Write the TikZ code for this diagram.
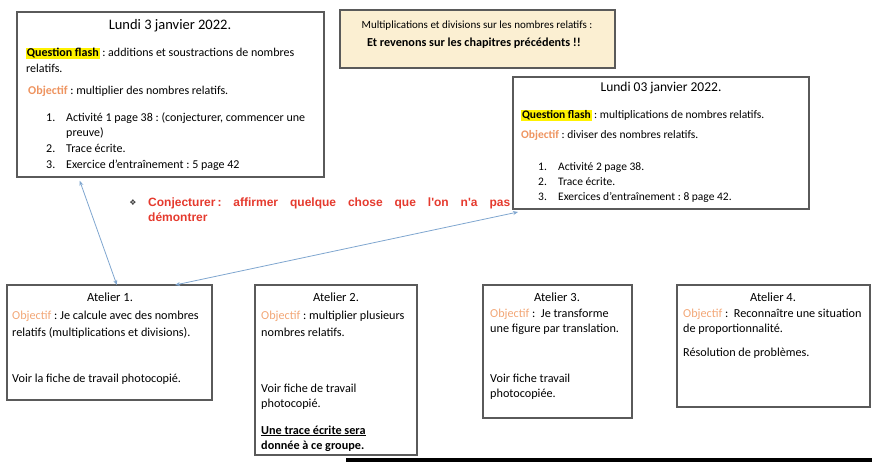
\documentclass[tikz,border=0pt]{standalone}
\usepackage{fontspec}
\setmainfont{Carlito}
\newfontfamily\arialfont{Liberation Sans}
\newfontfamily\symbfont{DejaVu Sans}
\usetikzlibrary{arrows.meta,calc}
\definecolor{boxgray}{HTML}{5A5A5A}
\definecolor{beige}{HTML}{FBEFD2}
\definecolor{objdark}{HTML}{EE9460}
\definecolor{objlight}{HTML}{F2A777}
\definecolor{hlyellow}{HTML}{FFF200}
\definecolor{arrowblue}{HTML}{7FA6CF}
\definecolor{conjred}{HTML}{E53A2E}
\newcommand{\qflash}{{\setlength{\fboxsep}{0.8pt}\colorbox{hlyellow}{\textbf{Question flash}}}}
\newcommand{\objb}{\textcolor{objdark}{\textbf{Objectif}}}
\newcommand{\obja}{\textcolor{objlight}{Objectif}}
\newcommand{\itm}[1]{\makebox[20pt][l]{#1}}
\frenchspacing
\begin{document}
\begin{tikzpicture}[x=1pt,y=-1pt,
  frame/.style={draw=boxgray,line width=1.1pt,inner sep=0,outer sep=0,anchor=north west},
  ln/.style={anchor=base west,inner sep=0,font=\fontsize{12}{14}\selectfont},
  lnb/.style={ln,font=\fontsize{11.5}{13}\selectfont},
  lna/.style={ln,font=\fontsize{12.2}{14}\selectfont},
  ttl/.style={anchor=base,inner sep=0,font=\fontsize{14.5}{17}\selectfont},
  ttla/.style={anchor=base,inner sep=0,font=\fontsize{12.5}{14}\selectfont},
  conn/.style={{Stealth[length=5pt,width=4pt]}-{Stealth[length=5pt,width=4pt]},draw=arrowblue,line width=0.8pt}]
\useasboundingbox (0,0) rectangle (872,462);

% Box 1
\node[frame,minimum width=307pt,minimum height=165pt] (b1) at (17,12) {};
\node[ttl] (b1t) at (170,30) {Lundi 3 janvier 2022.};
\node[ln] (b1a) at (26,57) {\qflash{} : additions et soustractions de nombres};
\node[ln] (b1b) at (26,73) {relatifs.};
\node[ln] (b1c) at (28,95) {\objb{} : multiplier des nombres relatifs.};
\node[ln] (b1d) at (46,122) {\itm{1.}Activité 1 page 38 : (conjecturer, commencer une};
\node[ln] (b1e) at (66,137) {preuve)};
\node[ln] (b1f) at (46,153) {\itm{2.}Trace écrite.};
\node[ln] (b1g) at (46,169) {\itm{3.}Exercice d’entraînement : 5 page 42};

% Top box
\node[frame,fill=beige,minimum width=275pt,minimum height=58pt] (tb) at (340,10) {};
\node[anchor=base,inner sep=0,font=\fontsize{11}{13}\selectfont] (tb1) at (477,29) {Multiplications et divisions sur les nombres relatifs :};
\node[anchor=base,inner sep=0,font=\fontsize{12.2}{14}\selectfont\bfseries] (tb2) at (474,47) {Et revenons sur les chapitres précédents !!};

% Box 2
\node[frame,minimum width=296pt,minimum height=132pt] (b2) at (513,77) {};
\node[ttl,font=\fontsize{13.5}{16}\selectfont] (b2t) at (661,92) {Lundi 03 janvier 2022.};
\node[lnb] (b2a) at (521,119) {\qflash{} : multiplications de nombres relatifs.};
\node[lnb] (b2b) at (521,139) {\objb{} : diviser des nombres relatifs.};
\node[lnb] (b2c) at (538,171) {\itm{1.}Activité 2 page 38.};
\node[lnb] (b2d) at (538,186) {\itm{2.}Trace écrite.};
\node[lnb] (b2e) at (538,201) {\itm{3.}Exercices d’entraînement : 8 page 42.};

% Conjecturer
\node[anchor=base,inner sep=0,font=\symbfont\fontsize{8}{9}\selectfont,text=black!75] (cb) at (133,206) {❖};
\node[anchor=base west,inner sep=0,text=conjred,font=\arialfont\bfseries\fontsize{12}{14}\selectfont] (c1) at (148,207)
  {\makebox[362pt][s]{Conjecturer\,: affirmer quelque chose que l'on n'a pas}};
\node[anchor=base west,inner sep=0,text=conjred,font=\arialfont\bfseries\fontsize{12}{14}\selectfont] (c2) at (148,222) {démontrer};

% Atelier 1
\node[frame,minimum width=205pt,minimum height=115pt] (a1) at (7,285) {};
\node[ttla] (a1t) at (110,301) {Atelier 1.};
\node[lna] (a1a) at (12,319) {\obja{} : Je calcule avec des nombres};
\node[lna] (a1b) at (12,336) {relatifs (multiplications et divisions).};
\node[lna] (a1c) at (12,382) {Voir la fiche de travail photocopié.};

% Atelier 2
\node[frame,minimum width=162pt,minimum height=170pt] (a2) at (255,285) {};
\node[ttla] (a2t) at (336,301) {Atelier 2.};
\node[lna] (a2a) at (261,319) {\obja{} : multiplier plusieurs};
\node[lna] (a2b) at (261,336) {nombres relatifs.};
\node[lna] (a2c) at (261,392) {Voir fiche de travail};
\node[lna] (a2d) at (261,407) {photocopié.};
\node[lna] (a2e) at (261,434) {\textbf{\underline{Une trace écrite sera}}};
\node[lna] (a2f) at (261,449) {\textbf{donnée à ce groupe.}};

% Atelier 3
\node[frame,minimum width=149pt,minimum height=133pt] (a3) at (483,285) {};
\node[ttla] (a3t) at (557,301) {Atelier 3.};
\node[lna] (a3a) at (490,317) {\obja{} :\ \ Je transforme};
\node[lna] (a3b) at (490,332) {une figure par translation.};
\node[lna] (a3c) at (490,382) {Voir fiche travail};
\node[lna] (a3d) at (490,397) {photocopiée.};

% Atelier 4
\node[frame,minimum width=193pt,minimum height=122pt] (a4) at (677,285) {};
\node[ttla] (a4t) at (773,301) {Atelier 4.};
\node[lna] (a4a) at (683,317) {\obja{} :\ \ Reconnaître une situation};
\node[lna] (a4b) at (683,332) {de proportionnalité.};
\node[lna] (a4c) at (683,356) {Résolution de problèmes.};

% connectors
\draw[conn,shorten <=4pt] ($(b1.south west)!0.2!(b1.south east)$) -- ($(a1.north west)!0.536!(a1.north east)$);
\draw[conn] ($(a1.north west)!0.82!(a1.north east)$) -- ($(b2.south west)+(5,3)$);

% black bar
\fill[black] (346,458) rectangle (872,462);
\end{tikzpicture}
\end{document}
